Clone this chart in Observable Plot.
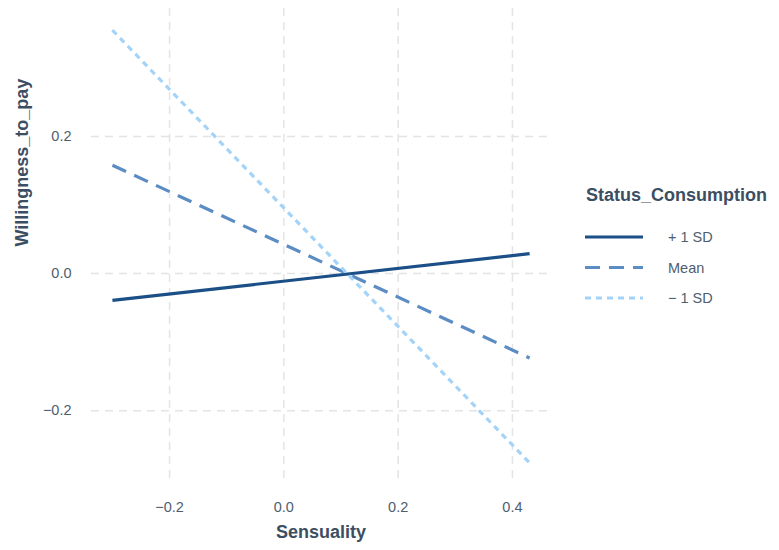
<!DOCTYPE html>
<html><head><meta charset="utf-8">
<script src="https://cdn.jsdelivr.net/npm/d3@7"></script>
<script src="https://cdn.jsdelivr.net/npm/@observablehq/plot@0.6"></script>
<style>
body{margin:0;background:#fff;font-family:"Liberation Sans",Arial,sans-serif;}
#wrap{position:relative;width:779px;height:550px;}
#wrap > svg{position:absolute;top:0;}
</style></head><body><div id="wrap"></div>
<script>
const sensuality = [-0.30, 0.43];
const seriesNames = ["+ 1 SD", "Mean", "\u2212 1 SD"];
const plus1SD = [-0.039, 0.029];
const meanLine = [0.158, -0.123];
const minus1SD = [0.355, -0.276];
const xTicks = [-0.2, 0.0, 0.2, 0.4];
const yTicks = [-0.2, 0.0, 0.2];
const legendTitle = "Status_Consumption";
const xTitle = "Sensuality";
const yTitle = "Willingness_to_pay";
const seriesColors = ["#1b4f87", "#5b8cc3", "#a3d3f8"];
const seriesDash = [null, "15,9", "6,5"];

const seriesValues = [plus1SD, meanLine, minus1SD];
const rows = [];
seriesValues.forEach((vals, i) => vals.forEach((v, j) => rows.push({series: seriesNames[i], x: sensuality[j], y: v})));

const fmt = d3.format(".1f");
const gridStyle = {stroke: "#e4e4e4", strokeOpacity: 1, strokeWidth: 1.5, strokeDasharray: "8,6"};
const titleColor = "#3c4e62";

const chart = Plot.plot({
  width: 560, height: 550,
  marginLeft: 91, marginRight: 10, marginTop: 8, marginBottom: 66,
  style: {fontFamily: "Liberation Sans, Arial, sans-serif", fontSize: "14.5px", color: "#4f5e6e", background: "transparent"},
  x: {domain: [-0.3366, 0.4666]},
  y: {domain: [-0.3076, 0.3866]},
  marks: [
    Plot.gridX(xTicks, gridStyle),
    Plot.gridY(yTicks, gridStyle),
    Plot.axisX(xTicks, {tickSize: 0, tickPadding: 17, label: null, tickFormat: fmt}),
    Plot.axisY(yTicks, {tickSize: 0, tickPadding: 20, label: null, tickFormat: fmt}),
    ...seriesNames.map((name, i) => Plot.line(rows.filter(d => d.series === name), {
      x: "x", y: "y", stroke: seriesColors[i], strokeWidth: 3.2,
      strokeDasharray: seriesDash[i], strokeLinecap: "butt"
    })),
    Plot.text([xTitle], {frameAnchor: "bottom", dy: 53, fontWeight: "bold", fontSize: 18, fill: titleColor}),
    Plot.text([yTitle], {frameAnchor: "left", dx: -69, rotate: -90, fontWeight: "bold", fontSize: 18, fill: titleColor})
  ]
});
chart.style.left = "0px";
document.getElementById("wrap").appendChild(chart);

// Legend
const leg = d3.select("#wrap").append("svg")
  .attr("width", 219).attr("height", 550)
  .style("left", "560px")
  .style("font-family", "Liberation Sans, Arial, sans-serif");
leg.append("text").attr("x", 26).attr("y", 195).attr("dominant-baseline", "central")
  .attr("font-size", 18).attr("font-weight", "bold").attr("fill", titleColor).text(legendTitle);
const keyY = d3.scalePoint().domain(seriesNames).range([237, 298]);
seriesNames.forEach((name, i) => {
  leg.append("line").attr("x1", 25).attr("x2", 83).attr("y1", keyY(name)).attr("y2", keyY(name))
    .attr("stroke", seriesColors[i]).attr("stroke-width", 3.2)
    .attr("stroke-dasharray", seriesDash[i]);
  leg.append("text").attr("x", 108).attr("y", keyY(name)).attr("dominant-baseline", "central")
    .attr("font-size", 14.5).attr("fill", "#4f5e6e").text(name);
});
</script></body></html>
